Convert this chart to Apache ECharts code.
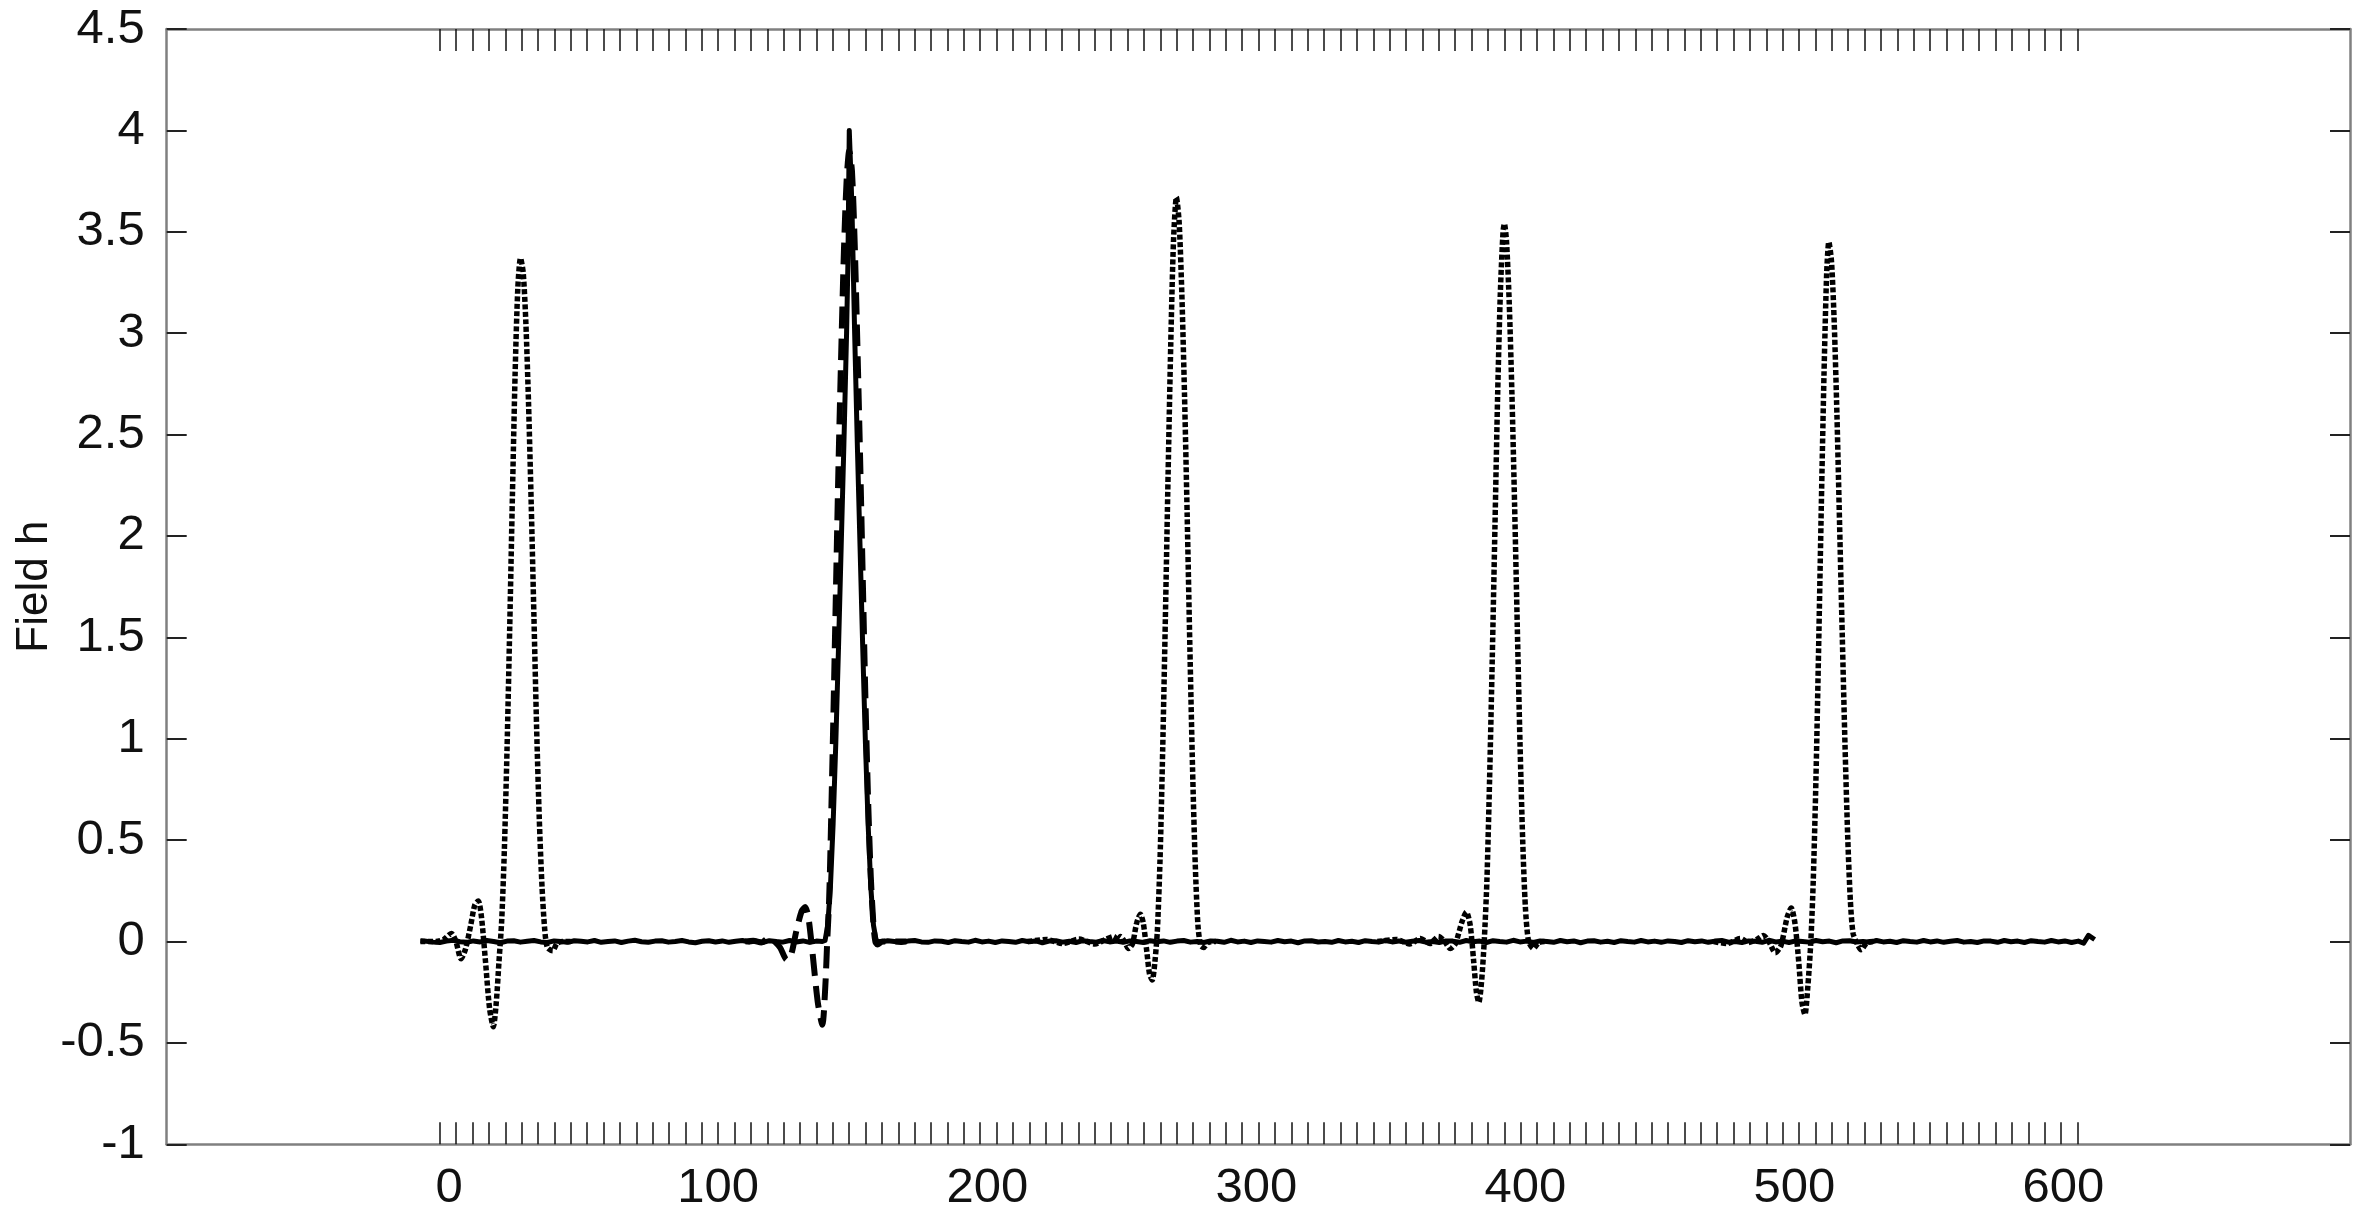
<!DOCTYPE html>
<html>
<head>
<meta charset="utf-8">
<script src="https://cdn.jsdelivr.net/npm/echarts@6/dist/echarts.min.js"></script>
<style>
html,body{margin:0;padding:0;background:#fff;}
#chart{width:2362px;height:1228px;}
</style>
</head>
<body>
<div id="chart"></div>
<script>
// ---- axis values ----
const xMin = -105, xMax = 706.5;
const yMin = -1, yMax = 4.5, yStep = 0.5;
const xTickLabels = [0, 100, 200, 300, 400, 500, 600];
const yAxisTitle = 'Field h';

// lattice positions shown as rug ticks (top and bottom)
const rugTicks = [-3.5, 2.59, 8.67, 14.76, 20.85, 26.94, 33.02, 39.11, 45.2, 51.28, 57.37, 63.46, 69.54, 75.63, 81.72, 87.81, 93.89, 99.98, 106.07, 112.15, 118.24, 124.33, 130.41, 136.5, 142.59, 148.68, 154.76, 160.85, 166.94, 173.02, 179.11, 185.2, 191.28, 197.37, 203.46, 209.55, 215.63, 221.72, 227.81, 233.89, 239.98, 246.07, 252.15, 258.24, 264.33, 270.42, 276.5, 282.59, 288.68, 294.76, 300.85, 306.94, 313.02, 319.11, 325.2, 331.29, 337.37, 343.46, 349.55, 355.63, 361.72, 367.81, 373.89, 379.98, 386.07, 392.16, 398.24, 404.33, 410.42, 416.5, 422.59, 428.68, 434.76, 440.85, 446.94, 453.03, 459.11, 465.2, 471.29, 477.37, 483.46, 489.55, 495.63, 501.72, 507.81, 513.9, 519.98, 526.07, 532.16, 538.24, 544.33, 550.42, 556.5, 562.59, 568.68, 574.77, 580.85, 586.94, 593.03, 599.11, 605.2];

// ---- series values [x, h] ----
const solidLine = [[-10.7,0.004],[-8.5,0.001],[-6,-0.003],[-3.5,-0.005],[-1,0.002],[1.5,0.006],[4,-0.001],[6.5,-0.004],[9,0.003],[11.5,-0.002],[14,0.005],[16.5,0.0],[19,-0.006],[21.5,0.002],[24,0.004],[26.5,-0.003],[29,0.001],[31.5,0.005],[34,-0.002],[36.5,-0.005],[39,0.003],[41.5,0.0],[44,-0.004],[46.5,0.004],[49,0.001],[51.5,-0.002],[54,0.005],[56.5,-0.004],[59,0.0],[61.5,0.003],[64,-0.005],[66.5,0.002],[69,0.006],[71.5,-0.001],[74,-0.004],[76.5,0.002],[79,0.004],[81.5,-0.003],[84,0.0],[86.5,0.005],[89,-0.002],[91.5,-0.006],[94,0.001],[96.5,0.004],[99,-0.002],[101.5,0.003],[104,-0.004],[106.5,0.001],[109,0.005],[111.5,-0.003],[114,0.002],[116.5,-0.005],[119,0.004],[121.5,0.0],[124,-0.003],[126.5,0.005],[129,-0.002],[131.5,0.003],[134,-0.004],[136.5,0.002],[138.7,0.0],
  [139.7,0.005],[140.7,0.08],[141.7,0.27],[142.7,0.58],[143.7,0.98],[144.7,1.45],[145.7,1.95],[146.7,2.45],[147.7,3.0],[148.2,3.35],[148.7,4.0],[149.2,3.82],[149.7,3.62],[150.7,3.0],[151.7,2.45],[152.7,1.95],[153.7,1.45],[154.7,0.98],[155.7,0.58],[156.7,0.27],[157.7,0.08],[158.7,0.005],
  [160.5,-0.003],[163,0.004],[165.5,0.0],[168,-0.005],[170.5,0.002],[173,0.005],[175.5,-0.002],[178,-0.004],[180.5,0.003],[183,0.001],[185.5,-0.005],[188,0.004],[190.5,0.0],[193,-0.003],[195.5,0.006],[198,-0.002],[200.5,0.002],[203,-0.005],[205.5,0.003],[208,0.0],[210.5,-0.004],[213,0.005],[215.5,-0.001],[218,0.003],[220.5,-0.006],[223,0.002],[225.5,0.004],[228,-0.003],[230.5,0.001],[233,-0.005],[235.5,0.004],[238,0.0],[240.5,-0.003],[243,0.005],[245.5,-0.002],[248,0.002],[250.5,-0.004],[253,0.003],[255.5,0.0],[258,-0.005],[260.5,0.004],[263,-0.001],[265.5,0.003],[268,-0.004],[270.5,0.002],[273,0.005],[275.5,-0.003],[278,0.0],[280.5,-0.005],[283,0.003],[285.5,0.001],[288,-0.004],[290.5,0.006],[293,-0.002],[295.5,0.002],[298,-0.005],[300.5,0.003],[303,0.0],[305.5,-0.003],[308,0.005],[310.5,-0.001],[313,0.002],[315.5,-0.006],[318,0.003],[320.5,0.004],[323,-0.002],[325.5,0.0],[328,-0.004],[330.5,0.005],[333,-0.002],[335.5,0.001],[338,-0.005],[340.5,0.004],[343,0.0],[345.5,-0.003],[348,0.005],[350.5,-0.002],[353,0.003],[355.5,-0.004],[358,0.001],[360.5,0.005],[363,-0.003],[365.5,0.0],[368,-0.005],[370.5,0.003],[373,0.002],[375.5,-0.004],[378,0.005],[380.5,-0.001],[383,0.002],[385.5,-0.005],[388,0.004],[390.5,0.0],[393,-0.003],[395.5,0.006],[398,-0.002],[400.5,0.002],[403,-0.005],[405.5,0.003],[408,0.0],[410.5,-0.004],[413,0.005],[415.5,-0.001],[418,0.003],[420.5,-0.006],[423,0.002],[425.5,0.004],[428,-0.003],[430.5,0.001],[433,-0.005],[435.5,0.004],[438,0.0],[440.5,-0.003],[443,0.005],[445.5,-0.002],[448,0.002],[450.5,-0.004],[453,0.003],[455.5,0.0],[458,-0.005],[460.5,0.004],[463,-0.001],[465.5,0.003],[468,-0.004],[470.5,0.002],[473,0.005],[475.5,-0.003],[478,0.0],[480.5,-0.005],[483,0.003],[485.5,0.001],[488,-0.004],[490.5,0.006],[493,-0.002],[495.5,0.002],[498,-0.005],[500.5,0.003],[503,0.0],[505.5,-0.003],[508,0.005],[510.5,-0.001],[513,0.002],[515.5,-0.006],[518,0.003],[520.5,0.004],[523,-0.002],[525.5,0.0],[528,-0.004],[530.5,0.005],[533,-0.002],[535.5,0.001],[538,-0.005],[540.5,0.004],[543,0.0],[545.5,-0.003],[548,0.005],[550.5,-0.002],[553,0.003],[555.5,-0.004],[558,0.001],[560.5,0.005],[563,-0.003],[565.5,0.0],[568,-0.005],[570.5,0.003],[573,0.002],[575.5,-0.004],[578,0.005],[580.5,-0.001],[583,0.002],[585.5,-0.005],[588,0.004],[590.5,0.0],[593,-0.003],[595.5,0.005],[598,-0.002],[600.5,0.003],[603,-0.005],[605.5,0.002],[607.5,-0.008],[609.3,0.03],[611.6,0.01]];

const dashedPulse = [[110,0],[113,0.004],[116,-0.005],[119,0.02],[121,0.0],[123,-0.03],[125.5,-0.09],[127,-0.07],[129,0.05],[131,0.15],[132.3,0.17],[133.5,0.12],[135,-0.05],[137,-0.3],[138.7,-0.41],[139.8,-0.22],[140.5,0.0],[141.2,0.2],[141.7,0.45],[142.7,1.05],[143.7,1.7],[144.7,2.35],[145.7,2.9],[146.7,3.4],[147.7,3.75],[148.7,3.9],[149.7,3.8],[150.7,3.45],[151.7,2.95],[152.7,2.4],[153.7,1.8],[154.7,1.2],[155.7,0.7],[156.7,0.32],[157.7,0.08],[158.4,0.0],[159.2,-0.015],[161,0],[170,0]];

const dottedPulse1 = [[-10.7,0],[-5,0.0],[-2,0.01],[0.8,0.04],[2.5,0.0],[4.4,-0.085],[6,-0.04],[8,0.08],[9.5,0.18],[10.8,0.2],[12,0.12],[13.5,-0.1],[15,-0.33],[16.4,-0.42],[17.5,-0.3],[18.5,-0.1],[19.5,0.1],[20.5,0.45],[21.5,0.95],[22.5,1.55],[23.5,2.2],[24.5,2.8],[25.5,3.22],[26.5,3.37],[27.5,3.3],[28.5,3.05],[29.5,2.65],[30.5,2.15],[31.5,1.6],[32.5,1.05],[33.5,0.6],[34.5,0.27],[35.5,0.06],[36.5,-0.03],[38.5,-0.045],[40,-0.01],[42,0],[46,0]];

const dottedPulse2 = [[215,0],[222,0.01],[228,-0.01],[234,0.012],[240,-0.012],[244,0.01],[247,0.025],[248.3,0.0],[249.5,0.025],[251,0.0],[252.5,-0.035],[254,-0.01],[255.5,0.09],[256.9,0.135],[258,0.09],[259.3,-0.05],[260.3,-0.16],[261.3,-0.19],[262.3,-0.1],[263.2,0.05],[264.2,0.4],[265.2,0.95],[266.2,1.6],[267.2,2.3],[268.2,2.95],[269.2,3.45],[270.3,3.67],[271.3,3.55],[272.3,3.2],[273.3,2.7],[274.3,2.1],[275.3,1.45],[276.3,0.85],[277.3,0.38],[278.3,0.08],[279.3,-0.02],[280.4,-0.03],[282,-0.005],[285,0]];

const dottedPulse3 = [[345,0],[352,0.01],[357,-0.012],[361,0.015],[364.5,-0.01],[367.7,0.025],[370,0.0],[372.1,-0.035],[374,-0.01],[376.5,0.1],[378.1,0.145],[379.5,0.08],[380.8,-0.1],[381.8,-0.25],[382.7,-0.3],[383.7,-0.2],[384.7,0.0],[385.7,0.3],[386.7,0.8],[387.7,1.4],[388.7,2.05],[389.7,2.7],[390.7,3.2],[391.7,3.5],[392.2,3.54],[393,3.45],[394,3.15],[395,2.7],[396,2.15],[397,1.55],[398,0.98],[399,0.5],[400,0.17],[401.2,0.0],[403,-0.035],[405,-0.005],[408,0]];

const dottedPulse4 = [[470,0],[475,-0.01],[479.9,0.015],[483,-0.005],[486,0.01],[488.5,0.03],[490.5,0.0],[492.9,-0.055],[495,-0.02],[497.3,0.12],[498.8,0.165],[500.2,0.09],[501.6,-0.1],[502.8,-0.3],[503.9,-0.36],[505,-0.22],[506.1,0.0],[507,0.3],[508,0.8],[509,1.45],[510,2.15],[511,2.8],[512,3.3],[512.8,3.45],[513.8,3.35],[514.8,3.05],[515.8,2.6],[516.8,2.05],[517.8,1.5],[518.8,0.97],[519.8,0.52],[520.8,0.2],[521.8,0.04],[523.3,-0.01],[524.8,-0.04],[527,-0.005],[530,0]];

const dottedPulses = [dottedPulse1, dottedPulse2, dottedPulse3, dottedPulse4];

// ---- styling ----
const FONT = '"Liberation Sans", Arial, Helvetica, sans-serif';
const AXIS_GRAY = '#808080';

const chart = echarts.init(document.getElementById('chart'), null, {renderer: 'canvas'});

const series = [];
dottedPulses.forEach(function (d, i) {
  series.push({
    name: 'dotted' + (i + 1), type: 'line', data: d, showSymbol: false, smooth: 0.25,
    xAxisIndex: 0, yAxisIndex: 0, z: 2,
    lineStyle: {color: '#000', width: 5.5, type: [5, 2.5], cap: 'butt'}
  });
});
series.push({
  name: 'dashed', type: 'line', data: dashedPulse, showSymbol: false, smooth: 0.25,
  xAxisIndex: 0, yAxisIndex: 0, z: 3,
  lineStyle: {color: '#000', width: 6, type: [22, 10], cap: 'butt'}
});
series.push({
  name: 'solid', type: 'line', data: solidLine, showSymbol: false, smooth: false,
  xAxisIndex: 0, yAxisIndex: 0, z: 4,
  lineStyle: {color: '#000', width: 5, join: 'round'}
});

const option = {
  animation: false,
  backgroundColor: '#fff',
  grid: {left: 166.7, right: 12, top: 29, bottom: 83.7, containLabel: false, outerBoundsMode: 'none'},
  xAxis: [
    {
      type: 'value', position: 'bottom', min: xMin, max: xMax,
      axisLine: {show: true, onZero: false, lineStyle: {color: AXIS_GRAY, width: 2.5}},
      axisTick: {show: true, inside: true, length: 22, customValues: rugTicks, lineStyle: {color: '#111', width: 1.5}},
      axisLabel: {show: true, customValues: xTickLabels, margin: 20, color: '#111', fontSize: 49, fontFamily: FONT},
      splitLine: {show: false}
    },
    {
      type: 'value', position: 'top', min: xMin, max: xMax,
      axisLine: {show: true, onZero: false, lineStyle: {color: AXIS_GRAY, width: 2.5}},
      axisTick: {show: true, inside: true, length: 22, customValues: rugTicks, lineStyle: {color: '#111', width: 1.5}},
      axisLabel: {show: false},
      splitLine: {show: false}
    }
  ],
  yAxis: [
    {
      type: 'value', position: 'left', min: yMin, max: yMax, interval: yStep,
      name: yAxisTitle, nameLocation: 'middle', nameGap: 110, nameRotate: 90, nameMoveOverlap: false,
      nameTextStyle: {color: '#111', fontSize: 44, fontFamily: FONT},
      axisLine: {show: true, onZero: false, lineStyle: {color: AXIS_GRAY, width: 2.5}},
      axisTick: {show: true, inside: true, length: 20, lineStyle: {color: '#222', width: 2}},
      axisLabel: {show: true, margin: 22, color: '#111', fontSize: 49, fontFamily: FONT},
      splitLine: {show: false}
    },
    {
      type: 'value', position: 'right', min: yMin, max: yMax, interval: yStep,
      axisLine: {show: true, onZero: false, lineStyle: {color: AXIS_GRAY, width: 2.5}},
      axisTick: {show: true, inside: true, length: 20, lineStyle: {color: '#222', width: 2}},
      axisLabel: {show: false},
      splitLine: {show: false}
    }
  ],
  series: series
};
chart.setOption(option);
</script>
</body>
</html>
